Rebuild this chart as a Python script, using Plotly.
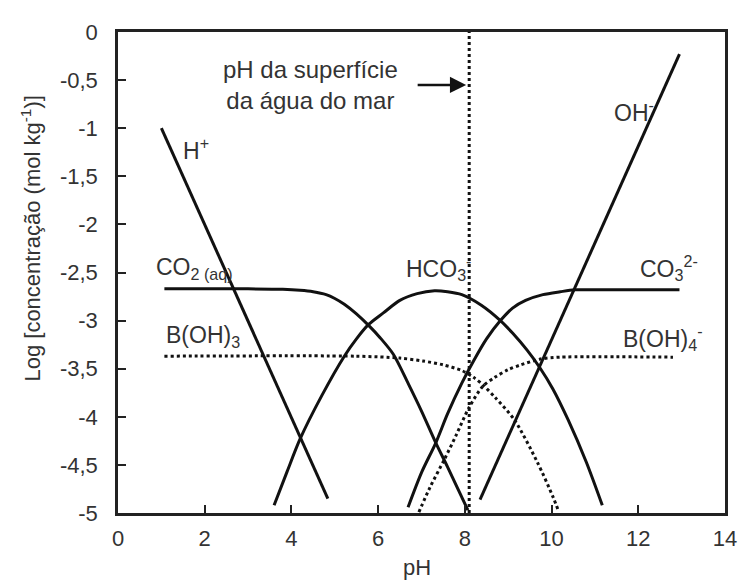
import plotly.graph_objects as go

# ---- data ----
x_tickvals = [0, 2, 4, 6, 8, 10, 12, 14]
x_ticktext = ["0", "2", "4", "6", "8", "10", "12", "14"]
y_tickvals = [0, -0.5, -1, -1.5, -2, -2.5, -3, -3.5, -4, -4.5, -5]
y_ticktext = ["0", "-0,5", "-1", "-1,5", "-2", "-2,5", "-3", "-3,5", "-4", "-4,5", "-5"]

ph_h = [1.0, 4.84]
log_h = [-1.0, -4.85]

ph_oh = [8.35, 12.95]
log_oh = [-4.86, -0.23]

ph_co2 = [1.07, 2.0, 3.0, 3.8, 4.2, 4.5, 4.8, 5.0, 5.22, 5.5, 5.78, 6.05, 6.35, 6.7, 7.0, 7.33, 7.6, 7.85, 8.07]
log_co2 = [-2.67, -2.67, -2.67, -2.675, -2.685, -2.70, -2.73, -2.77, -2.83, -2.93, -3.05, -3.18, -3.35, -3.66, -3.94, -4.27, -4.52, -4.76, -4.97]

ph_hco3 = [3.6, 3.9, 4.2, 4.7, 5.22, 5.5, 5.78, 6.12, 6.5, 6.9, 7.3, 7.6, 7.93, 8.38, 8.82, 9.1, 9.44, 9.73, 10.03, 10.38, 10.8, 11.17]
log_hco3 = [-4.92, -4.57, -4.23, -3.78, -3.37, -3.19, -3.04, -2.92, -2.79, -2.72, -2.69, -2.70, -2.73, -2.84, -3.00, -3.13, -3.31, -3.49, -3.71, -4.03, -4.47, -4.92]

ph_co3 = [6.69, 7.0, 7.33, 7.6, 7.93, 8.2, 8.5, 8.82, 9.1, 9.4, 9.8, 10.2, 10.53, 11.0, 12.95]
log_co3 = [-4.94, -4.58, -4.27, -3.97, -3.65, -3.42, -3.19, -3.00, -2.87, -2.79, -2.73, -2.70, -2.68, -2.68, -2.68]

ph_boh3 = [1.07, 5.5, 6.5, 7.03, 7.5, 7.93, 8.2, 8.42, 8.7, 9.14, 9.67, 10.04, 10.16]
log_boh3 = [-3.37, -3.37, -3.39, -3.42, -3.46, -3.52, -3.59, -3.67, -3.80, -4.03, -4.47, -4.84, -4.98]

ph_boh4 = [6.94, 7.2, 7.52, 7.8, 8.1, 8.42, 8.69, 9.0, 9.29, 9.74, 10.2, 12.8]
log_boh4 = [-4.99, -4.73, -4.45, -4.19, -3.90, -3.68, -3.59, -3.51, -3.46, -3.40, -3.38, -3.38]

ph_surface = 8.1
y_span = [-5, 0]

# ---- figure ----
LINE = "#111111"
TEXT = "#333333"
FONT = "Liberation Sans, Arial, sans-serif"

fig = go.Figure()

def solid(x, y, shape="spline"):
    fig.add_trace(go.Scatter(x=x, y=y, mode="lines",
                             line=dict(color=LINE, width=3, shape=shape, smoothing=0.8),
                             hoverinfo="skip"))

def dotted(x, y, shape="spline"):
    fig.add_trace(go.Scatter(x=x, y=y, mode="lines",
                             line=dict(color=LINE, width=3, dash="dot", shape=shape, smoothing=0.8),
                             hoverinfo="skip"))

solid(ph_h, log_h, "linear")
solid(ph_oh, log_oh, "linear")
solid(ph_co2, log_co2)
solid(ph_hco3, log_hco3)
solid(ph_co3, log_co3)
dotted(ph_boh3, log_boh3)
dotted(ph_boh4, log_boh4)
dotted([ph_surface, ph_surface], y_span, "linear")

labels = [
    ("H<sup>+</sup>", 1.80, -1.22, "center"),
    ("CO<sub>2 (aq)</sub>", 0.83, -2.46, "left"),
    ("B(OH)<sub>3</sub>", 1.06, -3.17, "left"),
    ("HCO<sub>3</sub><sup>-</sup>", 7.40, -2.45, "center"),
    ("OH<sup>-</sup>", 11.90, -0.82, "center"),
    ("CO<sub>3</sub><sup>2-</sup>", 12.70, -2.45, "center"),
    ("B(OH)<sub>4</sub><sup>-</sup>", 12.55, -3.18, "center"),
]
for txt, x, y, anchor in labels:
    fig.add_annotation(x=x, y=y, text=txt, showarrow=False, xanchor=anchor, yanchor="middle",
                       font=dict(family=FONT, size=23, color=TEXT))

fig.add_annotation(x=4.45, y=-0.55, text="pH da superfície<br>da água do mar", showarrow=False,
                   xanchor="center", yanchor="middle", align="center",
                   font=dict(family=FONT, size=24, color=TEXT))
fig.add_annotation(x=8.03, y=-0.55, ax=-50, ay=0, text="", showarrow=True,
                   arrowhead=2, arrowsize=1.3, arrowwidth=2.5, arrowcolor=LINE)

fig.add_annotation(xref="paper", yref="paper", x=-0.143, y=0.571, text="Log [concentração (mol kg<sup>-1</sup>)]",
                   textangle=-90, showarrow=False, xanchor="center", yanchor="middle",
                   font=dict(family=FONT, size=22, color=TEXT))
fig.add_annotation(xref="paper", yref="paper", x=0.493, y=-0.114, text="pH",
                   showarrow=False, xanchor="center", yanchor="middle",
                   font=dict(family=FONT, size=22, color=TEXT))

axis_common = dict(showline=True, linewidth=2.5, linecolor="#222222", mirror=True,
                   showgrid=False, zeroline=False, ticks="inside", ticklen=8, tickwidth=2,
                   tickcolor="#222222", tickfont=dict(family=FONT, size=22, color=TEXT))

fig.update_xaxes(range=[0, 14], tickvals=x_tickvals, ticktext=x_ticktext,
                 ticklabelstandoff=4, **axis_common)
fig.update_yaxes(range=[-5, 0], tickvals=y_tickvals, ticktext=y_ticktext,
                 ticklabelstandoff=13, **axis_common)

# page body has an 8px margin, so the figure is sized and offset to fill the 749x582 window
fig.update_layout(width=741, height=574, margin=dict(l=110, r=13, t=14, b=69),
                  plot_bgcolor="white", paper_bgcolor="white", showlegend=False,
                  font=dict(family=FONT, color=TEXT))

fig.write_html("out.html")
